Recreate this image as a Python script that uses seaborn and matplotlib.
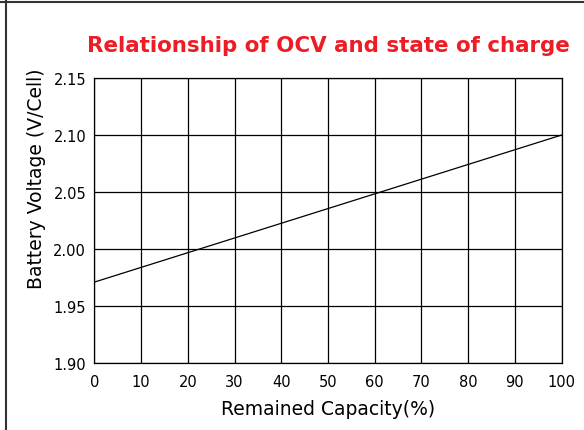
import seaborn as sns
import matplotlib.pyplot as plt
import pandas as pd
from matplotlib.lines import Line2D

# data
capacity = [0, 100]
voltage = [1.971, 2.10]
x_ticks = [0, 10, 20, 30, 40, 50, 60, 70, 80, 90, 100]
y_ticks = [1.90, 1.95, 2.00, 2.05, 2.10, 2.15]

data = pd.DataFrame({'Capacity': capacity, 'Voltage': voltage})

sns.set_style('white')
plt.rcParams['font.family'] = ['DejaVu Sans']
plt.rcParams['text.color'] = 'black'
plt.rcParams['axes.labelcolor'] = 'black'
plt.rcParams['xtick.color'] = 'black'
plt.rcParams['ytick.color'] = 'black'

fig = plt.figure(figsize=(5.84, 4.31), dpi=100)
ax = fig.add_axes([0.1618, 0.1555, 0.7997, 0.661])

sns.lineplot(data=data, x='Capacity', y='Voltage', color='black', linewidth=0.9, ax=ax)

ax.set_xlim(0, 100)
ax.set_ylim(1.90, 2.15)
ax.set_xticks(x_ticks)
ax.set_yticks(y_ticks)
ax.set_xticklabels([str(t) for t in x_ticks], fontsize=10.5)
ax.set_yticklabels(['%.2f' % t for t in y_ticks], fontsize=10.5)
ax.tick_params(axis='x', length=0, pad=8)
ax.tick_params(axis='y', length=0, pad=6)
ax.grid(True, color='black', linewidth=0.9)
for s in ax.spines.values():
    s.set_color('black')
    s.set_linewidth(0.9)

ax.set_xlabel('Remained Capacity(%)', fontsize=13.5, labelpad=7)
ax.set_ylabel('Battery Voltage (V/Cell)', fontsize=13.5, labelpad=6)
ax.yaxis.set_label_coords(-0.103, 0.65)

fig.text(0.563, 0.893, 'Relationship of OCV and state of charge', color='#ee1c25',
         fontsize=15.4, fontweight='bold', ha='center', va='center')

# frame lines at top and left edge
fig.add_artist(Line2D([0, 1], [1 - 3 / 431, 1 - 3 / 431], color='#333333', linewidth=1.5))
fig.add_artist(Line2D([6 / 584, 6 / 584], [0, 1], color='#333333', linewidth=1.5))

fig.savefig('out.png', dpi=100)
